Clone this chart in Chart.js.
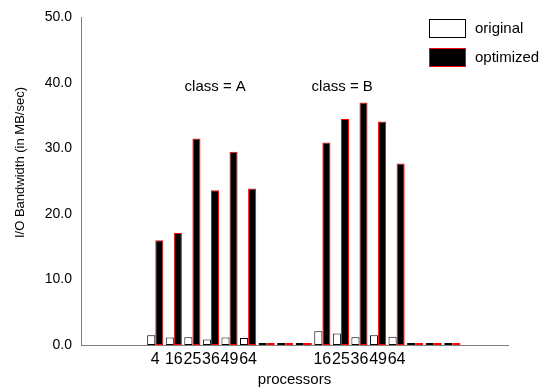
<!DOCTYPE html>
<html>
<head>
<meta charset="utf-8">
<script src="https://cdn.jsdelivr.net/npm/chart.js@4.4.1/dist/chart.umd.min.js"></script>
<style>
  html, body { margin: 0; padding: 0; background: #fff; }
</style>
</head>
<body>
<canvas id="chart" width="543" height="390"></canvas>
<script>
// processor counts along the x axis (blank slots are empty/zero categories)
const processors = ['', '', '', '', '4', '16', '25', '36', '49', '64', '', '', '',
  '16', '25', '36', '49', '64', '', '', '', '', '', ''];
const original = [null, null, null, null, 1.5, 1.15, 1.2, 0.85, 1.15, 1.05, 0, 0, 0,
  2.1, 1.75, 1.2, 1.5, 1.25, 0, 0, 0, null, null, null];
const optimized = [null, null, null, null, 16.0, 17.1, 31.5, 23.6, 29.5, 23.9, 0, 0, 0,
  30.9, 34.5, 37.0, 34.1, 27.7, 0, 0, 0, null, null, null];
const yTicks = [0, 10, 20, 30, 40, 50];
const classLabels = [
  { text: 'class = A', x: 7.23, y: 39.4 },
  { text: 'class = B', x: 14.07, y: 39.4 }
];

const FONT = "'Liberation Sans', Arial, sans-serif";

// draws the in-plot class labels, the rotated y title and the legend box
const extras = {
  id: 'extras',
  afterDraw(chart) {
    const ctx = chart.ctx;
    const xs = chart.scales.x, ys = chart.scales.y;
    ctx.save();
    ctx.fillStyle = '#000';
    ctx.font = '15px ' + FONT;
    ctx.textAlign = 'center';
    ctx.textBaseline = 'middle';
    classLabels.forEach(c => {
      ctx.fillText(c.text, xs.getPixelForValue(c.x), ys.getPixelForValue(c.y));
    });

    ctx.save();
    ctx.translate(20, 162.5);
    ctx.rotate(-Math.PI / 2);
    ctx.font = '13px ' + FONT;
    ctx.fillText('I/O Bandwidth (in MB/sec)', 0, 0);
    ctx.restore();

    ctx.textAlign = 'left';
    ctx.font = '15px ' + FONT;
    chart.data.datasets.forEach((ds, i) => {
      const top = 19.5 + i * 29;
      ctx.fillStyle = ds.backgroundColor;
      ctx.fillRect(429.5, top, 36, 18);
      ctx.strokeStyle = ds.borderColor;
      ctx.lineWidth = 1;
      ctx.strokeRect(429.5, top, 36, 18);
      ctx.fillStyle = '#000';
      ctx.fillText(ds.label, 475, top + 9.5);
    });
    ctx.restore();
  }
};

new Chart(document.getElementById('chart'), {
  type: 'bar',
  data: {
    labels: processors,
    datasets: [{
      label: 'original',
      data: original,
      backgroundColor: '#ffffff',
      borderColor: '#000000',
      borderWidth: 1,
      borderSkipped: false,
      minBarLength: 2
    }, {
      label: 'optimized',
      data: optimized,
      backgroundColor: '#000000',
      borderColor: '#ff0000',
      borderWidth: 1,
      borderSkipped: false,
      minBarLength: 2
    }]
  },
  options: {
    responsive: false,
    animation: false,
    layout: { padding: { top: 15, right: 35, left: 0, bottom: 0 } },
    datasets: {
      bar: { categoryPercentage: 0.87, barPercentage: 1.0 }
    },
    plugins: {
      legend: { display: false },
      tooltip: { enabled: false }
    },
    scales: {
      x: {
        offset: false,
        grid: { display: false, drawTicks: false, offset: false },
        border: { display: true, color: '#808080', width: 1 },
        ticks: {
          autoSkip: false,
          maxRotation: 0,
          padding: 5,
          color: '#000',
          font: { size: 16, family: FONT }
        },
        title: {
          display: true,
          text: 'processors',
          color: '#000',
          padding: { top: 0, bottom: 1 },
          font: { size: 15, family: FONT }
        },
        afterFit: s => { s.height = 45; }
      },
      y: {
        min: 0,
        max: 50,
        grid: { display: false, drawTicks: false },
        border: { display: true, color: '#808080', width: 1 },
        afterBuildTicks: s => { s.ticks = yTicks.map(v => ({ value: v })); },
        ticks: {
          padding: 9,
          color: '#000',
          font: { size: 14, family: FONT },
          callback: v => v.toFixed(1)
        },
        afterFit: s => { s.width = 81; }
      }
    }
  },
  plugins: [extras]
});
</script>
</body>
</html>
